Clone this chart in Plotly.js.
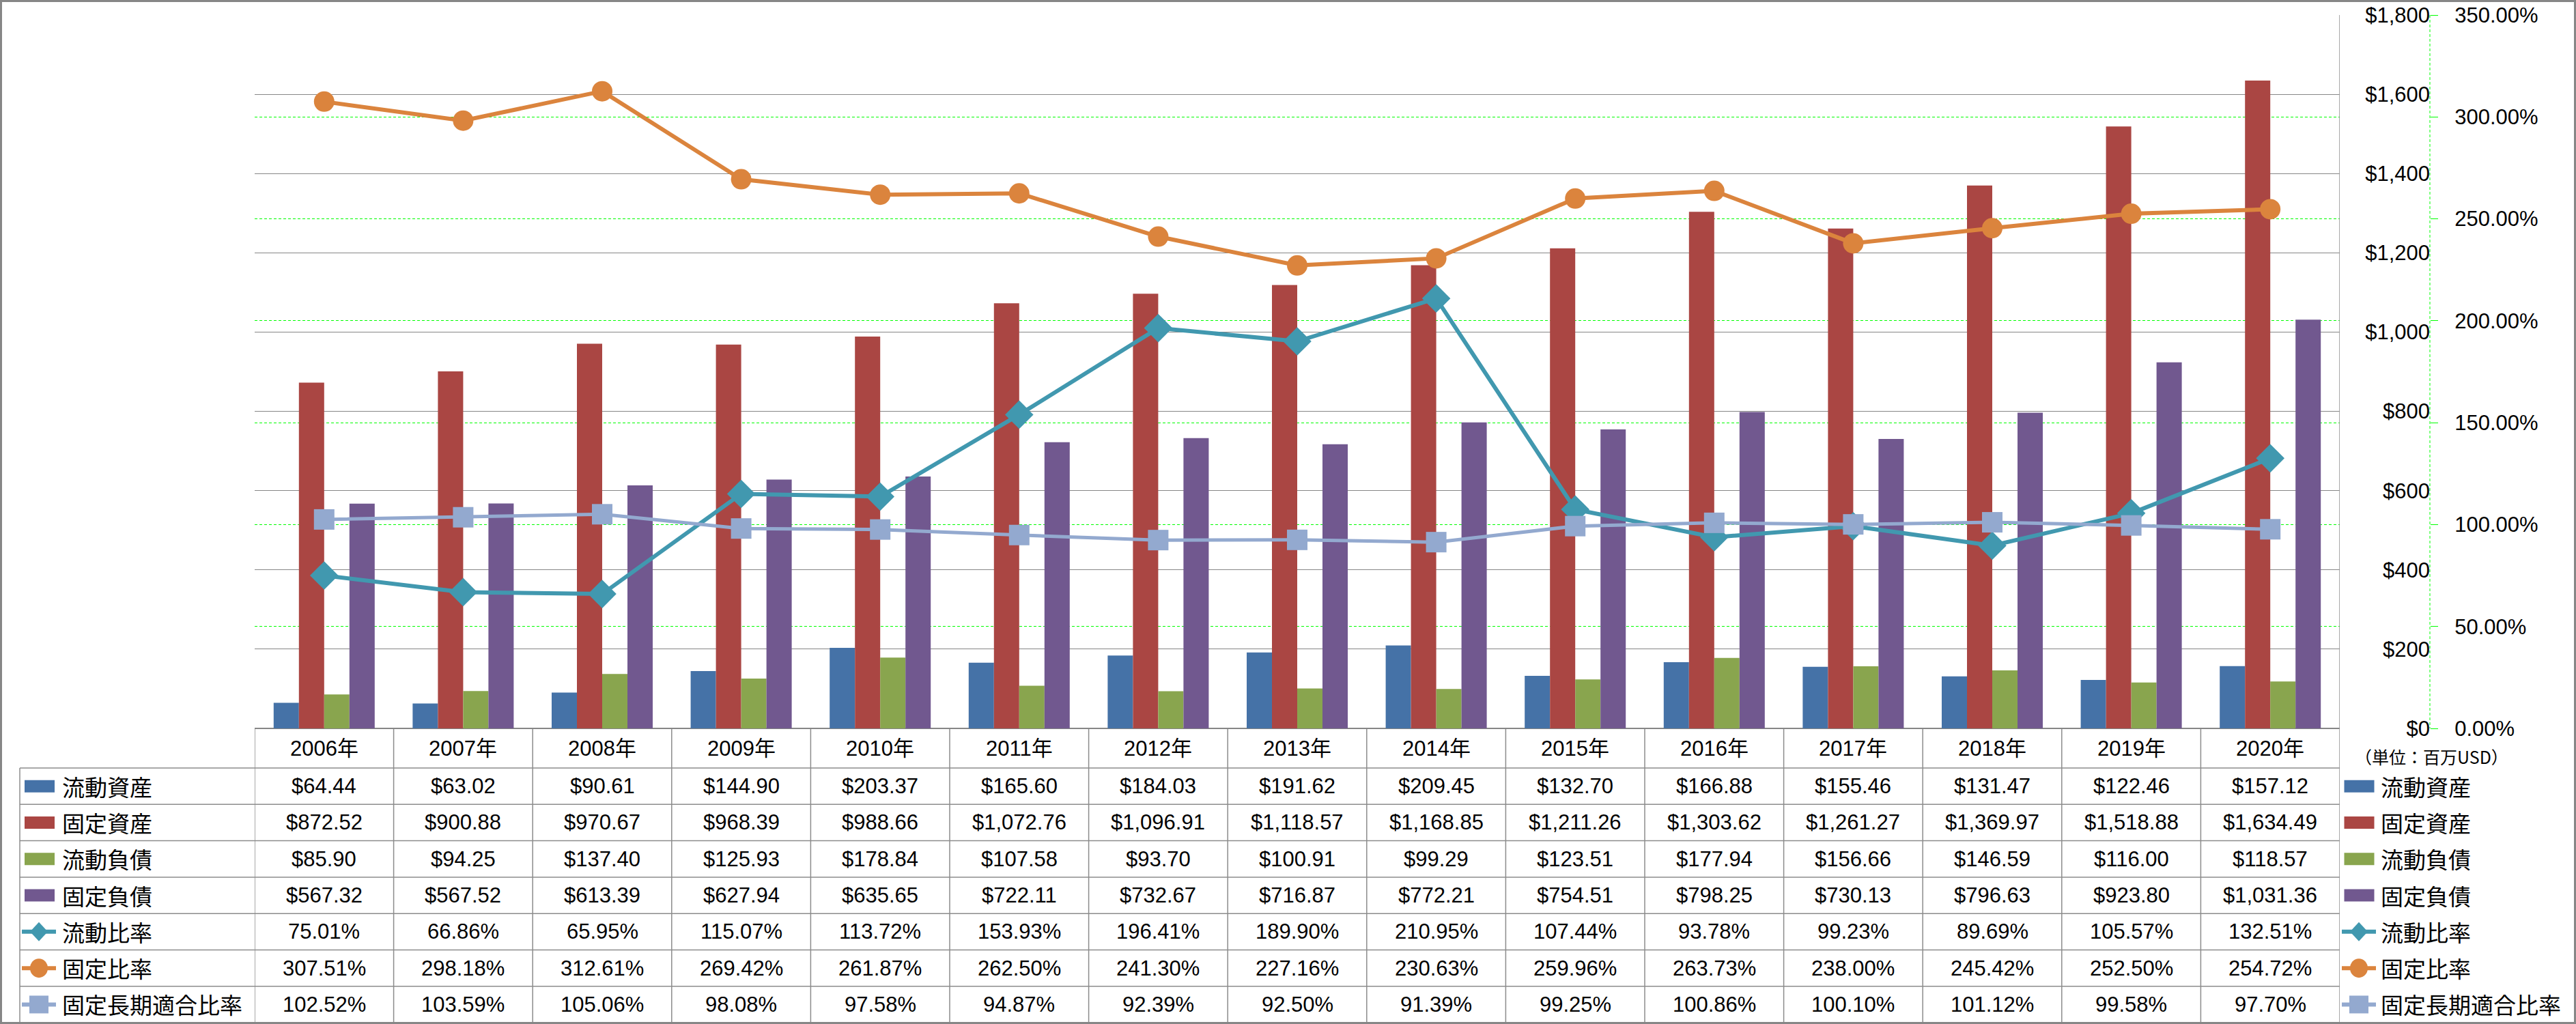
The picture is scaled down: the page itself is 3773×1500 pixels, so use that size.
<!DOCTYPE html>
<html><head><meta charset="utf-8">
<script src="https://cdn.plot.ly/plotly-3.0.1.min.js"></script>
<style>html,body{margin:0;padding:0;background:#fff}#chart{width:3773px;height:1500px}</style>
</head><body><div id="chart"></div>
<script>
const years = ['2006年','2007年','2008年','2009年','2010年','2011年','2012年','2013年','2014年','2015年','2016年','2017年','2018年','2019年','2020年'];
const currentAssets = [64.44,63.02,90.61,144.90,203.37,165.60,184.03,191.62,209.45,132.70,166.88,155.46,131.47,122.46,157.12];
const fixedAssets = [872.52,900.88,970.67,968.39,988.66,1072.76,1096.91,1118.57,1168.85,1211.26,1303.62,1261.27,1369.97,1518.88,1634.49];
const currentLiab = [85.90,94.25,137.40,125.93,178.84,107.58,93.70,100.91,99.29,123.51,177.94,156.66,146.59,116.00,118.57];
const fixedLiab = [567.32,567.52,613.39,627.94,635.65,722.11,732.67,716.87,772.21,754.51,798.25,730.13,796.63,923.80,1031.36];
const currentRatio = [75.01,66.86,65.95,115.07,113.72,153.93,196.41,189.90,210.95,107.44,93.78,99.23,89.69,105.57,132.51];
const fixedRatio = [307.51,298.18,312.61,269.42,261.87,262.50,241.30,227.16,230.63,259.96,263.73,238.00,245.42,252.50,254.72];
const fixedLongRatio = [102.52,103.59,105.06,98.08,97.58,94.87,92.39,92.50,91.39,99.25,100.86,100.10,101.12,99.58,97.70];
const seriesNames = ['流動資産','固定資産','流動負債','固定負債','流動比率','固定比率','固定長期適合比率'];
const unitLabel = '（単位：百万USD）';

const W = 3773, H = 1500;
const px = v => v / W;
const py = v => 1 - v / H;
const colors = ['#4572A7','#AA4643','#89A54E','#71588F','#4198AF','#DB843D','#93A9CF'];
const markerSymbols = ['diamond','circle','square'];
const numFont = 'Liberation Sans, Arial, Noto Sans CJK JP, sans-serif';
const jpFont = 'Noto Sans CJK JP, sans-serif';
const gridGray = '#868686';

const barSeries = [currentAssets, fixedAssets, currentLiab, fixedLiab];
const lineSeries = [currentRatio, fixedRatio, fixedLongRatio];
const lineWidths = [6, 6, 5];
const markerSizes = [32, 30, 30];

const traces = [];
barSeries.forEach((vals, i) => {
  traces.push({type:'bar', x: years, y: vals, name: seriesNames[i], marker:{color: colors[i]}, hoverinfo:'skip'});
});
lineSeries.forEach((vals, i) => {
  traces.push({type:'scatter', mode:'lines+markers', x: years, y: vals, yaxis:'y2', name: seriesNames[4+i],
    line:{color: colors[4+i], width: lineWidths[i]},
    marker:{symbol: markerSymbols[i], size: markerSizes[i], color: colors[4+i], line:{width:0}},
    hoverinfo:'skip'});
});

// geometry (pixels)
const plotL = 373, plotR = 3427, plotT = 22, plotB = 1067;
const axisX = 3559;
const headTop = 1068, headBot = 1125, rowH = 53.3;
const labelL = 29;
const rowCenter = k => headBot + rowH * (k + 0.5);

const shapes = [];
const annotations = [];

// table lines
const tableLine = {color:'#8c8c8c', width:1.5};
for (let k = 0; k <= 7; k++) {
  const y = headBot + rowH * k;
  shapes.push({type:'line', xref:'paper', yref:'paper', x0: px(labelL), x1: px(plotR), y0: py(y), y1: py(y), line: tableLine});
}
shapes.push({type:'line', xref:'paper', yref:'paper', x0: px(labelL), x1: px(labelL), y0: py(headBot), y1: py(headBot + rowH*7), line: tableLine});
for (let i = 0; i <= years.length; i++) {
  const top = (i === years.length) ? plotT : headTop;
  shapes.push({type:'line', xref:'x', yref:'paper', x0: i - 0.5, x1: i - 0.5, y0: py(top), y1: py(headBot + rowH*7), line: tableLine});
}
// dashed secondary axis line
shapes.push({type:'line', xref:'paper', yref:'paper', x0: px(axisX), x1: px(axisX), y0: py(plotT), y1: py(plotB), line:{color:'#00FF00', width:1, dash:'4px,3px'}});
// outer frame
shapes.push({type:'rect', xref:'paper', yref:'paper', x0: px(1.5), x1: px(W-1.5), y0: py(H-1.5), y1: py(1.5), line:{color:'#868686', width:3}});

// legend key drawing
function addKey(cx, cy, idx) {
  if (idx < 4) {
    shapes.push({type:'rect', xref:'paper', yref:'paper', x0: px(cx-22), x1: px(cx+22), y0: py(cy+9), y1: py(cy-9), fillcolor: colors[idx], line:{width:0}});
  } else {
    const c = colors[idx];
    shapes.push({type:'line', xref:'paper', yref:'paper', x0: px(cx-25), x1: px(cx+25), y0: py(cy), y1: py(cy), line:{color:c, width:6}});
    if (idx === 4) {
      shapes.push({type:'path', xref:'paper', yref:'paper', fillcolor:c, line:{width:0},
        path:`M${px(cx-13)},${py(cy)} L${px(cx)},${py(cy-14)} L${px(cx+13)},${py(cy)} L${px(cx)},${py(cy+14)} Z`});
    } else if (idx === 5) {
      shapes.push({type:'circle', xref:'paper', yref:'paper', x0: px(cx-13), x1: px(cx+13), y0: py(cy+14), y1: py(cy-14), fillcolor:c, line:{width:0}});
    } else {
      shapes.push({type:'rect', xref:'paper', yref:'paper', x0: px(cx-14), x1: px(cx+14), y0: py(cy+13), y1: py(cy-13), fillcolor:c, line:{width:0}});
    }
  }
}

// header (years)
years.forEach(y => {
  annotations.push({xref:'x', yref:'paper', x: y, y: py((headTop+headBot)/2), text: y, showarrow:false,
    xanchor:'center', yanchor:'middle', font:{family:numFont, size:31, color:'#000'}});
});

const fmtMoney = v => '$' + v.toLocaleString('en-US', {minimumFractionDigits:2, maximumFractionDigits:2});
const fmtPct = v => v.toFixed(2) + '%';
const allSeries = [...barSeries, ...lineSeries];
allSeries.forEach((vals, k) => {
  const cy = rowCenter(k);
  // left label column
  addKey(k < 4 ? 58 : 57, cy, k);
  annotations.push({xref:'paper', yref:'paper', x: px(89), y: py(cy), text: seriesNames[k], showarrow:false,
    xanchor:'left', yanchor:'middle', font:{family:jpFont, size:33, color:'#000'}});
  // values
  vals.forEach((v, i) => {
    annotations.push({xref:'x', yref:'paper', x: years[i], y: py(cy), text: k < 4 ? fmtMoney(v) : fmtPct(v), showarrow:false,
      xanchor:'center', yanchor:'middle', font:{family:numFont, size:31, color:'#000'}});
  });
  // right legend
  addKey(k < 4 ? 3455.5 : 3455, cy, k);
  annotations.push({xref:'paper', yref:'paper', x: px(3485), y: py(cy), text: seriesNames[k], showarrow:false,
    xanchor:'left', yanchor:'middle', font:{family:jpFont, size:33, color:'#000'}});
});
annotations.push({xref:'paper', yref:'paper', x: px(3561), y: py(1108), text: unitLabel, showarrow:false,
  xanchor:'center', yanchor:'middle', font:{family:jpFont, size:25, color:'#000'}});

const layout = {
  width: W, height: H,
  margin:{l:0, r:0, t:0, b:0, pad:0},
  paper_bgcolor:'#fff', plot_bgcolor:'#fff',
  showlegend:false,
  barmode:'group', bargap:0.273, bargroupgap:0,
  xaxis:{type:'category', domain:[px(plotL), px(plotR)], range:[-0.5, years.length - 0.5], autorange:false,
    showticklabels:false, showgrid:false, zeroline:false, showline:false, ticks:'', fixedrange:true},
  yaxis:{domain:[1 - plotB/H, 1 - plotT/H], range:[0,1800], autorange:false, dtick:200, tick0:0, tickprefix:'$', tickformat:',d',
    anchor:'free', position: px(axisX), side:'left', showline:false, ticks:'',
    showgrid:true, gridcolor:gridGray, gridwidth:1, zeroline:true, zerolinecolor:gridGray, zerolinewidth:1.5,
    tickfont:{family:numFont, size:31, color:'#000'}, fixedrange:true},
  yaxis2:{domain:[1 - plotB/H, 1 - plotT/H], overlaying:'y', range:[0,350], autorange:false, dtick:50, tick0:0, ticksuffix:'%', tickformat:'.2f',
    anchor:'free', position: px(axisX), side:'right', showline:false, ticks:'outside', ticklen:11, tickcolor:'#00FF00', tickwidth:1,
    ticklabelstandoff:18,
    showgrid:true, gridcolor:'#00FF00', gridwidth:1, griddash:'4px,3px', zeroline:false,
    tickfont:{family:numFont, size:31, color:'#000'}, fixedrange:true},
  shapes: shapes,
  annotations: annotations
};

Plotly.newPlot('chart', traces, layout, {displayModeBar:false, staticPlot:true});
</script>
</body></html>
